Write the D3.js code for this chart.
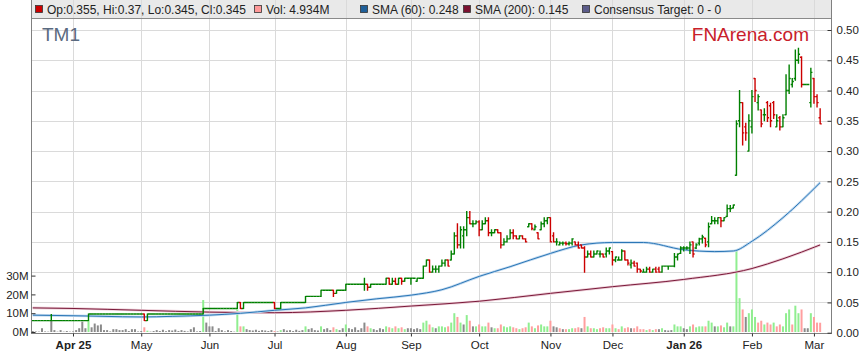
<!DOCTYPE html>
<html>
<head>
<script src="https://cdnjs.cloudflare.com/ajax/libs/d3/7.8.5/d3.min.js"></script>
<style>
	body { margin: 0; background: #fff; }
	svg { display: block; font-family: "Liberation Sans", Arial, sans-serif; }
</style>
</head>
<body>
<svg id="chart"></svg>
<script>
// ---- data ----
const startDate = "2025-03-13";   // first trading day shown, weekdays follow

// [open, high, low, close]
const bars = [
	// Mar 13 - Mar 31
	[.02,.02,.02,.02],[.02,.02,.02,.02],[.02,.02,.02,.02],[.02,.02,.02,.02],[.02,.02,.02,.02],[.02,.02,.02,.02],
	[.02,.03,.02,.02],[.02,.02,.02,.02],[.02,.02,.02,.02],[.02,.02,.02,.02],[.02,.02,.02,.02],[.02,.02,.02,.02],[.02,.02,.02,.02],
	// Apr
	[.02,.02,.02,.02],[.02,.02,.02,.02],[.02,.02,.02,.02],[.02,.02,.02,.02],[.02,.02,.02,.02],
	[.02,.031,.02,.031],
	[.031,.031,.031,.031],[.031,.031,.031,.031],[.031,.031,.031,.031],[.031,.031,.031,.031],[.031,.031,.031,.031],[.031,.031,.031,.031],
	[.031,.031,.031,.031],[.031,.031,.031,.031],[.031,.031,.031,.031],[.031,.031,.031,.031],[.031,.031,.031,.031],[.031,.031,.031,.031],
	[.031,.031,.031,.031],[.031,.031,.031,.031],[.031,.031,.031,.031],[.031,.031,.031,.031],
	// May
	[.031,.031,.031,.031],[.031,.031,.02,.02],[.02,.031,.02,.031],
	[.031,.031,.031,.031],[.031,.031,.031,.031],[.031,.031,.031,.031],[.031,.031,.031,.031],[.031,.031,.031,.031],[.031,.031,.031,.031],
	[.031,.031,.031,.031],[.031,.031,.031,.031],[.031,.031,.031,.031],[.031,.031,.031,.031],[.031,.031,.031,.031],[.031,.031,.031,.031],
	[.031,.031,.031,.031],[.031,.031,.031,.031],[.031,.031,.031,.031],[.031,.031,.031,.031],[.031,.031,.031,.031],
	[.031,.04,.031,.04],[.04,.04,.04,.04],
	// Jun
	[.04,.04,.04,.04],[.04,.04,.04,.04],[.04,.04,.04,.04],[.04,.04,.04,.04],[.04,.04,.04,.04],[.04,.04,.04,.04],
	[.04,.04,.04,.04],[.04,.04,.04,.04],[.04,.04,.04,.04],
	[.04,.05,.04,.05],[.05,.05,.04,.04],[.04,.05,.04,.05],
	[.05,.05,.05,.05],[.05,.05,.05,.05],[.05,.05,.05,.05],[.05,.05,.05,.05],[.05,.05,.05,.05],[.05,.05,.05,.05],
	[.05,.05,.05,.05],[.05,.05,.05,.05],[.05,.05,.05,.05],
	// Jul
	[.05,.05,.04,.04],[.04,.04,.04,.04],[.04,.05,.04,.05],
	[.05,.05,.05,.05],[.05,.05,.05,.05],[.05,.05,.05,.05],[.05,.05,.05,.05],[.05,.05,.05,.05],[.05,.05,.05,.05],[.05,.05,.05,.05],
	[.05,.06,.05,.06],[.06,.06,.06,.06],[.06,.06,.06,.06],[.06,.06,.06,.06],[.06,.06,.06,.06],
	[.06,.07,.06,.07],[.07,.07,.07,.07],[.07,.07,.07,.07],[.07,.07,.07,.07],
	[.07,.07,.06,.065],[.065,.07,.065,.07],[.07,.07,.07,.07],[.07,.07,.07,.07],
	// Aug
	[.07,.08,.07,.08],[.08,.08,.08,.08],[.08,.08,.08,.08],[.08,.08,.08,.08],[.08,.08,.08,.08],[.08,.08,.08,.08],
	[.08,.09,.07,.08],[.08,.08,.07,.075],[.075,.08,.075,.08],
	[.08,.08,.08,.08],[.08,.08,.08,.08],[.08,.08,.08,.08],[.08,.08,.08,.08],
	[.08,.09,.08,.09],[.09,.09,.08,.08],[.08,.09,.08,.085],[.085,.09,.08,.08],[.08,.09,.08,.09],[.09,.09,.08,.085],
	[.085,.09,.085,.09],[.09,.09,.09,.09],
	// Sep
	[.09,.09,.08,.09],[.09,.09,.09,.09],[.085,.09,.085,.09],[.09,.09,.09,.09],
	[.09,.11,.09,.11],[.11,.12,.11,.12],[.12,.12,.10,.10],[.10,.11,.10,.105],[.105,.11,.10,.105],[.105,.11,.10,.11],
	[.11,.12,.11,.115],[.115,.12,.11,.12],[.12,.12,.11,.11],[.12,.135,.12,.13],[.13,.165,.13,.16],[.16,.18,.14,.145],
	[.145,.175,.14,.17],[.16,.175,.14,.17],[.17,.20,.16,.19],[.19,.20,.18,.18],[.18,.185,.175,.18],[.18,.185,.18,.183],
	// Oct
	[.183,.185,.16,.17],[.17,.185,.17,.18],[.18,.19,.18,.185],[.185,.19,.16,.165],[.165,.17,.16,.165],[.165,.17,.165,.17],
	[.17,.17,.165,.165],[.165,.165,.14,.145],[.145,.155,.145,.15],[.15,.16,.15,.155],[.155,.17,.155,.165],[.165,.17,.155,.16],
	[.16,.16,.155,.155],[.155,.16,.155,.16],[.16,.16,.155,.155],[.155,.155,.15,.15],[.175,.18,.175,.18],[.18,.18,.17,.172],
	[.17,.178,.17,.175],[.165,.165,.155,.155],[.17,.183,.17,.18],[.18,.19,.175,.185],[.185,.19,.18,.19],
	// Nov
	[.19,.19,.15,.15],[.16,.165,.15,.15],[.15,.155,.145,.15],[.145,.15,.145,.148],[.148,.15,.145,.148],[.148,.15,.145,.147],
	[.147,.15,.145,.148],[.148,.155,.145,.155],[.15,.15,.145,.145],[.145,.15,.14,.14],[.145,.145,.14,.14],[.14,.142,.10,.125],
	[.125,.135,.125,.13],[.13,.135,.125,.125],[.125,.135,.125,.13],[.13,.135,.13,.135],[.13,.135,.125,.13],[.13,.13,.125,.125],
	[.13,.14,.125,.135],[.135,.14,.13,.14],
	// Dec
	[.134,.134,.112,.12],[.12,.125,.117,.125],[.12,.125,.12,.12],[.12,.137,.12,.135],[.135,.135,.12,.12],[.12,.12,.112,.115],
	[.112,.12,.107,.115],[.115,.118,.11,.11],[.115,.115,.10,.105],[.105,.105,.10,.102],[.10,.105,.10,.10],[.10,.108,.10,.105],
	[.105,.108,.10,.10],[.10,.105,.10,.105],[.105,.108,.10,.10],[.105,.108,.10,.10],[.10,.11,.10,.11],[.11,.11,.11,.11],
	[.11,.11,.105,.11],[.11,.11,.11,.11],[.11,.131,.109,.125],[.125,.13,.12,.13],[.131,.142,.131,.14],
	// Jan
	[.14,.142,.135,.14],[.14,.142,.138,.14],[.14,.15,.131,.145],[.15,.15,.125,.13],[.14,.147,.139,.145],[.148,.156,.145,.155],
	[.155,.161,.148,.158],[.156,.156,.142,.145],[.15,.181,.142,.175],[.18,.192,.18,.185],[.185,.19,.18,.185],[.185,.19,.18,.19],
	[.19,.19,.175,.185],[.185,.19,.185,.19],[.192,.211,.192,.205],[.205,.21,.20,.205],[.206,.211,.206,.211],
	[.26,.35,.26,.345],[.35,.40,.34,.38],[.38,.38,.31,.33],[.34,.346,.318,.33],[.30,.36,.30,.35],
	// Feb
	[.34,.40,.33,.39],[.42,.42,.382,.40],[.38,.393,.368,.39],[.368,.368,.34,.345],[.36,.37,.35,.36],[.38,.382,.349,.355],
	[.375,.379,.34,.35],[.38,.382,.354,.36],[.34,.36,.34,.35],[.355,.357,.335,.34],[.34,.36,.34,.355],[.36,.426,.36,.40],
	[.40,.442,.395,.42],[.41,.42,.406,.415],[.42,.467,.417,.45],[.45,.47,.445,.46],[.455,.456,.406,.41],[.41,.41,.41,.41],
	[.41,.41,.41,.41],[.38,.437,.373,.43],
	// Mar
	[.42,.42,.379,.39],[.39,.393,.373,.38],[.355,.37,.345,.345]
];

// daily volume, millions of shares
const volumes = [
	0.5,0.3,0.2,2,0.3,0.2,6.4,1,0.2,1,0.2,0.5,0.2,
	0.3,1,2,5.5,2,6,2.5,4.5,3.5,4,1,1,0.3,1.5,1.5,1,1,1.5,0.5,1.5,1.5,0.3,
	0.5,2.5,0.7,0.2,0.5,1,0.5,1.2,0.4,1,0.8,1.3,0.5,1,0.6,0.3,1.5,2.5,0.3,0.5,17,5,
	3,3,0.5,2,1,0.3,1,0.5,0.2,12,3,3,1.5,1,0.8,1.2,0.6,1,0.8,0.5,1,
	0.5,0.3,1,1.5,0.8,1,0.5,1.2,0.6,1,3,1.5,2,1,0.8,3,1.5,2,1,2.5,1.5,1,2,
	4,2,1.5,2.5,1,2,5,3,2,1.5,1,2,1.5,3,2.5,2,3,2,2.5,1.5,2,
	2,1.5,2,1.5,5,6,4,2.5,2,3,3,2.5,3,5,10,8,5,4,9,6,3,3,
	4,3,3,5,2.5,2,2,4,3,2.5,3,2.5,2,1.5,2,2.5,5,3,2,3.5,4,3,3,
	6,3,2.5,2,1.5,1.5,1.5,2,2,2.5,2,8,3,2,2,1.5,2,2.5,2,2,
	4,2,1.5,3,2,2.5,2,2,3,1.5,1.5,1,1.5,1,1.5,1.5,2,1,0.8,1,4,3,3,
	2,1.5,3,4,2.5,3,3,3,6,5,3,3,3.5,2.5,5,3,3,44,18,12,8,10,
	12,8,5,6,4,5,4,5,3,4,3,10,12,4,14,10,12,2,2,10,
	8,5,4.934
];

// moving averages: [date, value]
const sma60 = [
	["2025-03-13",0.029],["2025-04-01",0.028],["2025-04-15",0.027],["2025-05-01",0.026],["2025-05-15",0.027],
	["2025-06-02",0.029],["2025-06-16",0.032],["2025-07-01",0.037],["2025-07-15",0.041],["2025-08-01",0.050],
	["2025-08-15",0.056],["2025-09-01",0.062],["2025-09-15",0.071],["2025-10-01",0.093],["2025-10-15",0.109],
	["2025-11-03",0.131],["2025-11-17",0.145],["2025-12-01",0.149],["2025-12-15",0.149],["2026-01-01",0.137],
	["2026-01-15",0.134],["2026-01-23",0.135],["2026-02-02",0.151],["2026-02-16",0.190],["2026-03-04",0.248]
];
const sma200 = [
	["2025-03-13",0.041],["2025-04-01",0.040],["2025-05-01",0.037],["2025-06-02",0.034],["2025-07-01",0.033],
	["2025-08-01",0.037],["2025-09-01",0.044],["2025-10-01",0.052],["2025-11-03",0.065],["2025-12-01",0.076],
	["2026-01-01",0.088],["2026-02-02",0.106],["2026-02-16",0.122],["2026-03-04",0.145]
];

const priceTicks = [0, 0.05, 0.10, 0.15, 0.20, 0.25, 0.30, 0.35, 0.40, 0.45, 0.50];
const volumeTicks = [0, 10, 20, 30];
const monthTicks = [
	["2025-04-01","Apr 25",true],["2025-05-01","May",false],["2025-06-02","Jun",false],["2025-07-01","Jul",false],
	["2025-08-01","Aug",false],["2025-09-01","Sep",false],["2025-10-01","Oct",false],["2025-11-03","Nov",false],
	["2025-12-01","Dec",false],["2026-01-01","Jan 26",true],["2026-02-02","Feb",false],["2026-03-02","Mar",false]
];
const legendItems = [
	{ label: "Op:0.355, Hi:0.37, Lo:0.345, Cl:0.345", color: "#cc0000" },
	{ label: "Vol: 4.934M", color: "#ff9999" },
	{ label: "SMA (60): 0.248", color: "#1f5f99" },
	{ label: "SMA (200): 0.145", color: "#7a1030" },
	{ label: "Consensus Target: 0 - 0", color: "#5c5c8a" }
];
const ticker = "TM1";
const brand = "FNArena.com";

// ---- layout ----
const W = 859, H = 363;
const plot = { left: 31, right: 831, top: 0, bottom: 333 };

const svg = d3.select("#chart").attr("width", W).attr("height", H);

// trading days: weekdays from the start date
const n = Math.min(bars.length, volumes.length);
let days = [];
let d = new Date(startDate + "T00:00:00Z");
while (days.length < n + 5) {
	let wd = d.getUTCDay();
	if (wd != 0 && wd != 6) days.push(d.toISOString().slice(0, 10));
	d = new Date(d.getTime() + 86400000);
}
const dayIndex = new Map(days.map((s, i) => [s, i]));

const x = d3.scaleLinear().domain([-0.55, 257.5]).range([plot.left, plot.right]);
const y = d3.scaleLinear().domain([0, 0.5]).range([332.7, 30]);
const yv = d3.scaleLinear().domain([0, 30]).range([332, 275.6]);

// legend band
svg.append("rect")
	.attr("x", plot.left).attr("y", 0)
	.attr("width", plot.right - plot.left).attr("height", 18.5)
	.attr("fill", "#e9e9e9");

// grid
svg.append("g").selectAll("line").data(priceTicks).join("line")
	.attr("x1", plot.left).attr("x2", plot.right)
	.attr("y1", v => Math.round(y(v)) + 0.5).attr("y2", v => Math.round(y(v)) + 0.5)
	.attr("stroke", "#dadada");
svg.append("g").selectAll("line").data(monthTicks).join("line")
	.attr("x1", t => Math.round(x(dayIndex.get(t[0]))) + 0.5)
	.attr("x2", t => Math.round(x(dayIndex.get(t[0]))) + 0.5)
	.attr("y1", plot.top).attr("y2", plot.bottom)
	.attr("stroke", "#dadada");

svg.append("line")
	.attr("x1", plot.left).attr("x2", plot.right)
	.attr("y1", 18.5).attr("y2", 18.5)
	.attr("stroke", "#8a8a8a");

// volume bars
const prevClose = i => i > 0 ? bars[i - 1][3] : bars[i][3];
svg.append("g").selectAll("rect").data(d3.range(n)).join("rect")
	.attr("x", i => x(i) - 1)
	.attr("width", 2)
	.attr("y", i => yv(volumes[i]))
	.attr("height", i => yv(0) - yv(volumes[i]))
	.attr("fill", i => {
		let c = bars[i][3], p = prevClose(i);
		return c > p ? "#90ee90" : (c < p ? "#ff9f9f" : "#8a8a8a");
	});

// moving averages
const smaLine = d3.line()
	.x(p => x(dayIndex.get(p[0])))
	.y(p => y(p[1]))
	.curve(d3.curveMonotoneX);

[[sma200, "#ecccd6", "#7a1a3a"], [sma60, "#c2daf0", "#2a76b6"]].forEach(([pts, halo, col]) => {
	svg.append("path").attr("d", smaLine(pts))
		.attr("fill", "none").attr("stroke", halo).attr("stroke-width", 2.6);
	svg.append("path").attr("d", smaLine(pts))
		.attr("fill", "none").attr("stroke", col).attr("stroke-width", 1);
});

// OHLC bars
svg.append("g").selectAll("path").data(d3.range(n)).join("path")
	.attr("d", i => {
		let [o, h, l, c] = bars[i];
		let cx = x(i);
		return "M" + cx + "," + (y(h) - 0.5) + "V" + (y(l) + 0.5)
			+ "M" + (cx - 1.6) + "," + y(o) + "H" + cx
			+ "M" + cx + "," + y(c) + "H" + (cx + 1.6);
	})
	.attr("fill", "none")
	.attr("stroke", i => bars[i][3] < bars[i][0] ? "#cc0000" : "#008000")
	.attr("stroke-width", 1.4);

// frame / axes
svg.append("line").attr("x1", plot.left + 0.5).attr("x2", plot.left + 0.5)
	.attr("y1", 0).attr("y2", plot.bottom).attr("stroke", "#808080");
svg.append("line").attr("x1", plot.right + 0.5).attr("x2", plot.right + 0.5)
	.attr("y1", 0).attr("y2", plot.bottom).attr("stroke", "#808080");
svg.append("line").attr("x1", plot.left).attr("x2", plot.right + 1)
	.attr("y1", plot.bottom + 0.5).attr("y2", plot.bottom + 0.5).attr("stroke", "#808080");

const yAxis = svg.append("g")
	.attr("transform", "translate(" + (plot.right + 0.5) + ",0)")
	.call(d3.axisRight(y).tickValues(priceTicks).tickFormat(v => v.toFixed(2)).tickSize(-4).tickPadding(5));

const vAxis = svg.append("g")
	.attr("transform", "translate(" + (plot.left + 0.5) + ",0)")
	.call(d3.axisLeft(yv).tickValues(volumeTicks).tickFormat(v => v + "M").tickSize(-4).tickPadding(3));

const xAxis = svg.append("g")
	.attr("transform", "translate(0," + (plot.bottom + 0.5) + ")")
	.call(d3.axisBottom(x)
		.tickValues(monthTicks.map(t => dayIndex.get(t[0])))
		.tickFormat((v, k) => monthTicks[k][1])
		.tickSize(3).tickPadding(4));
xAxis.selectAll("text").attr("font-weight", (v, k) => monthTicks[k][2] ? "bold" : "normal");

[yAxis, vAxis, xAxis].forEach(a => {
	a.select(".domain").remove();
	a.selectAll("line").attr("stroke", "#333");
	a.selectAll("text").attr("fill", "#222").attr("font-size", 11.5)
		.attr("font-family", "'Liberation Sans', Arial, sans-serif");
});

// legend
const legendX = [35, 254, 360, 463, 582];
legendItems.forEach((it, k) => {
	svg.append("rect")
		.attr("x", legendX[k] + 0.5).attr("y", 5.5).attr("width", 7).attr("height", 7)
		.attr("fill", it.color).attr("stroke", "#333").attr("stroke-width", 0.8);
	svg.append("text")
		.attr("x", legendX[k] + 12).attr("y", 13.5)
		.attr("font-size", 12).attr("fill", "#222")
		.text(it.label);
});

// titles
svg.append("text").attr("x", 42).attr("y", 41)
	.attr("font-size", 19).attr("fill", "#5a6a80").text(ticker);
svg.append("text").attr("x", 809).attr("y", 41).attr("text-anchor", "end")
	.attr("font-size", 19).attr("fill", "#c8202a").text(brand);
</script>
</body>
</html>
